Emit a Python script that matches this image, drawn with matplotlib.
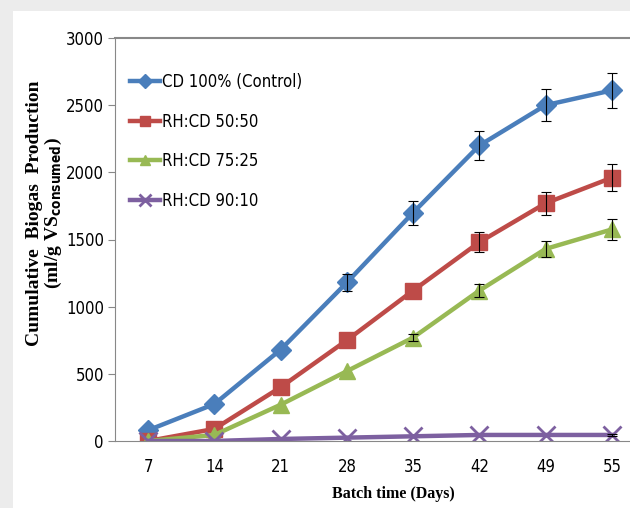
import matplotlib
matplotlib.use('Agg')
import matplotlib.pyplot as plt
from matplotlib.patches import Rectangle
import numpy as np

# Tiempo de digestion (dias) y produccion acumulada de biogas
dias = ['7', '14', '21', '28', '35', '42', '49', '55']

cd_control = [80, 275, 680, 1180, 1700, 2200, 2500, 2610]
cd_control_err = [0, 0, 0, 60, 90, 105, 120, 130]

rh_cd_50 = [0, 90, 400, 750, 1120, 1480, 1770, 1960]
rh_cd_50_err = [0, 0, 0, 0, 0, 75, 85, 100]

rh_cd_75 = [0, 45, 270, 520, 770, 1120, 1430, 1575]
rh_cd_75_err = [0, 0, 0, 0, 25, 50, 60, 75]

rh_cd_90 = [0, 0, 15, 25, 35, 45, 45, 45]
rh_cd_90_err = [0, 0, 0, 0, 0, 0, 0, 5]

series = [
    (cd_control, cd_control_err, 'CD 100% (Control)', '#4a7ebb', 'D', 10),
    (rh_cd_50, rh_cd_50_err, 'RH:CD 50:50', '#be4b48', 's', 11),
    (rh_cd_75, rh_cd_75_err, 'RH:CD 75:25', '#98b954', '^', 11),
    (rh_cd_90, rh_cd_90_err, 'RH:CD 90:10', '#7d60a0', 'x', 13),
]

plt.rcParams['font.family'] = ['DejaVu Sans']
plt.rcParams['font.stretch'] = 'condensed'

fig = plt.figure(figsize=(6.3, 5.08), dpi=100, facecolor='#ececec')
# panel blanco de fondo
fig.patches.append(Rectangle((13 / 630, 0), 1, 1 - 11 / 508, transform=fig.transFigure,
                             facecolor='white', edgecolor='none', zorder=-10))

ax = fig.add_axes([115 / 630, 67 / 508, 530 / 630, 403 / 508])
ax.set_facecolor('white')

x = np.arange(len(dias))
for valores, err, nombre, color, marker, ms in series:
    valores = np.array(valores)
    err = np.array(err)
    con_err = err > 0  # solo los puntos con desviacion
    ax.errorbar(x[con_err], valores[con_err], yerr=err[con_err], fmt='none',
                ecolor='black', elinewidth=0.8, capsize=3.5, capthick=0.8, zorder=3)
    ax.plot(x, valores, color=color, lw=3.2, marker=marker, ms=ms,
            mew=2 if marker == 'x' else 1, label=nombre, zorder=2)

ax.set_xlim(-0.5, 7.5)
ax.set_ylim(0, 3000)
ax.set_yticks(range(0, 3001, 500))
ax.set_xticks(x)
ax.set_xticklabels(dias)
ax.tick_params(axis='y', labelsize=12, length=5, color='#888888', pad=3)
ax.tick_params(axis='x', labelsize=12, length=0, pad=12)

for lado in ['top', 'left', 'bottom']:
    ax.spines[lado].set_color('#888888')
ax.spines['top'].set_linewidth(1.5)
ax.spines['right'].set_visible(False)

ax.set_xlabel('Batch time (Days)', family='Liberation Serif', fontweight='bold',
              fontsize=11.5)
ax.xaxis.set_label_coords(0.525, -0.112)
ax.set_ylabel('Cumulative  Biogas  Production\n(ml/g VS$_{\\mathbf{consumed}}$)',
              family='Liberation Serif', fontweight='bold', fontsize=14,
              linespacing=0.95)
ax.yaxis.set_label_coords(-0.097, 0.566)

leg = ax.legend(loc='upper left', bbox_to_anchor=(0.016, 0.93), frameon=False,
                fontsize=12, handlelength=1.8, handletextpad=0.1, markerscale=0.7,
                labelspacing=1.3, borderaxespad=0)

plt.savefig('out.png', dpi=100, facecolor=fig.get_facecolor())
plt.close()
